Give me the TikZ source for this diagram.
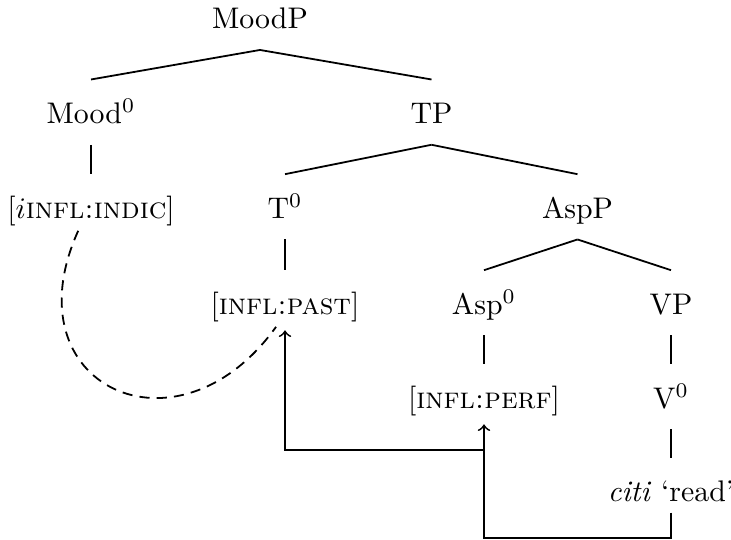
\documentclass[tikz,border=0pt]{standalone}
\usepackage{tikz}

\begin{document}
\begin{tikzpicture}[x=0.3355pt, y=-0.3355pt, semithick, every node/.style={anchor=base, inner xsep=0pt, inner ysep=4pt, text height=10.4pt, text depth=2.9pt}]
    \useasboundingbox (0,0) rectangle (731,540);

    % Tree nodes
    \node (moodp) at (260,28.5) {MoodP};
    \node (mood) at (91,123.3) {Mood$^0$};
    \node (tp) at (431.5,123.3) {TP};
    \node (indic) at (91,218) {[$i$\textsc{infl:indic}]};
    \node (t) at (285,218) {T$^0$};
    \node (aspp) at (577.5,218) {AspP};
    \node (past) at (285,314) {[\textsc{infl:past}]};
    \node (asp) at (484,314) {Asp$^0$};
    \node (vp) at (671,314) {VP};
    \node (perf) at (484,408) {[\textsc{infl:perf}]};
    \node (v) at (671,408) {V$^0$};
    \node (citi) at (671,501.7) {\textit{citi} `read'};

    % Branches
    \draw (moodp.south) -- (mood.north);
    \draw (moodp.south) -- (tp.north);
    \draw (mood.south) -- (indic.north);
    \draw (tp.south) -- (t.north);
    \draw (tp.south) -- (aspp.north);
    \draw (t.south) -- (past.north);
    \draw (aspp.south) -- (asp.north);
    \draw (aspp.south) -- (vp.north);
    \draw (asp.south) -- (perf.north);
    \draw (vp.south) -- (v.north);
    \draw (v.south) -- (citi.north);

    % Movement
    \coordinate (bend) at (484,450);
    \draw[->] ([yshift=3.5pt]citi.south) -- ++(0,25) -| ([yshift=1.7pt]perf.south);
    \draw[->] (bend) -| ([yshift=1.7pt]past.south);

    % Agreement
    \draw[dash pattern=on 3.4pt off 2.4pt] ([xshift=-4.3pt,yshift=2.9pt]indic.south) .. controls +(-70,155) and +(-99,138) .. ([xshift=-3pt,yshift=2.9pt]past.south);

\end{tikzpicture}
\end{document}
